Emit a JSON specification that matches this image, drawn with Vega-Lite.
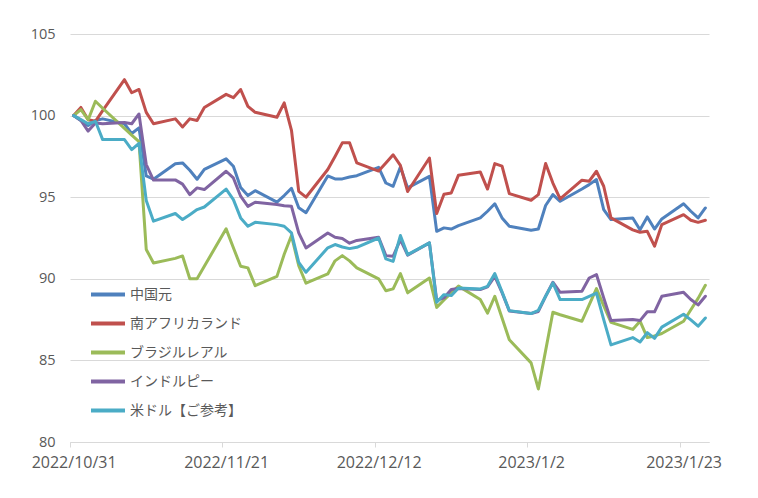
{
  "$schema": "https://vega.github.io/schema/vega-lite/v6.json",
  "width": 639,
  "height": 408,
  "autosize": "none",
  "padding": {"left": 70, "top": 34, "right": 49, "bottom": 56},
  "background": "white",
  "data": {
    "values": [
      {"date": "2022-10-31", "中国元": 100.0, "南アフリカランド": 100.0, "ブラジルレアル": 100.0, "インドルピー": 100.0, "米ドル【ご参考】": 100.0},
      {"date": "2022-11-01", "中国元": 99.7, "南アフリカランド": 100.5, "ブラジルレアル": 100.37, "インドルピー": 99.7, "米ドル【ご参考】": 99.75},
      {"date": "2022-11-02", "中国元": 99.4, "南アフリカランド": 99.75, "ブラジルレアル": 99.75, "インドルピー": 99.05, "米ドル【ご参考】": 99.5},
      {"date": "2022-11-03", "中国元": 99.7, "南アフリカランド": 99.65, "ブラジルレアル": 100.88, "インドルピー": 99.55, "米ドル【ご参考】": 99.65},
      {"date": "2022-11-04", "中国元": 99.8, "南アフリカランド": 100.3, "ブラジルレアル": 100.45, "インドルピー": 99.5, "米ドル【ご参考】": 98.53},
      {"date": "2022-11-07", "中国元": 99.5, "南アフリカランド": 102.2, "ブラジルレアル": 99.22, "インドルピー": 99.58, "米ドル【ご参考】": 98.53},
      {"date": "2022-11-08", "中国元": 98.9, "南アフリカランド": 101.4, "ブラジルレアル": 98.8, "インドルピー": 99.5, "米ドル【ご参考】": 97.92},
      {"date": "2022-11-09", "中国元": 99.25, "南アフリカランド": 101.6, "ブラジルレアル": 98.4, "インドルピー": 100.1, "米ドル【ご参考】": 98.3},
      {"date": "2022-11-10", "中国元": 96.3, "南アフリカランド": 100.2, "ブラジルレアル": 91.8, "インドルピー": 97.0, "米ドル【ご参考】": 94.8},
      {"date": "2022-11-11", "中国元": 96.1, "南アフリカランド": 99.5, "ブラジルレアル": 90.97, "インドルピー": 96.05, "米ドル【ご参考】": 93.53},
      {"date": "2022-11-14", "中国元": 97.05, "南アフリカランド": 99.8, "ブラジルレアル": 91.25, "インドルピー": 96.06, "米ドル【ご参考】": 94.0},
      {"date": "2022-11-15", "中国元": 97.1, "南アフリカランド": 99.3, "ブラジルレアル": 91.4, "インドルピー": 95.8, "米ドル【ご参考】": 93.63},
      {"date": "2022-11-16", "中国元": 96.65, "南アフリカランド": 99.8, "ブラジルレアル": 90.0, "インドルピー": 95.16, "米ドル【ご参考】": 93.93},
      {"date": "2022-11-17", "中国元": 96.1, "南アフリカランド": 99.7, "ブラジルレアル": 90.0, "インドルピー": 95.57, "米ドル【ご参考】": 94.24},
      {"date": "2022-11-18", "中国元": 96.7, "南アフリカランド": 100.5, "ブラジルレアル": 90.77, "インドルピー": 95.47, "米ドル【ご参考】": 94.4},
      {"date": "2022-11-21", "中国元": 97.35, "南アフリカランド": 101.3, "ブラジルレアル": 93.06, "インドルピー": 96.59, "米ドル【ご参考】": 95.5},
      {"date": "2022-11-22", "中国元": 96.9, "南アフリカランド": 101.1, "ブラジルレアル": 91.9, "インドルピー": 96.18, "米ドル【ご参考】": 94.85},
      {"date": "2022-11-23", "中国元": 95.6, "南アフリカランド": 101.6, "ブラジルレアル": 90.77, "インドルピー": 95.06, "米ドル【ご参考】": 93.73},
      {"date": "2022-11-24", "中国元": 95.1, "南アフリカランド": 100.57, "ブラジルレアル": 90.67, "インドルピー": 94.44, "米ドル【ご参考】": 93.22},
      {"date": "2022-11-25", "中国元": 95.4, "南アフリカランド": 100.2, "ブラジルレアル": 89.58, "インドルピー": 94.69, "米ドル【ご参考】": 93.46},
      {"date": "2022-11-28", "中国元": 94.7, "南アフリカランド": 99.9, "ブラジルレアル": 90.15, "インドルピー": 94.55, "米ドル【ご参考】": 93.32},
      {"date": "2022-11-29", "中国元": 95.1, "南アフリカランド": 100.78, "ブラジルレアル": 91.5, "インドルピー": 94.48, "米ドル【ご参考】": 93.22},
      {"date": "2022-11-30", "中国元": 95.55, "南アフリカランド": 99.1, "ブラジルレアル": 92.65, "インドルピー": 94.44, "米ドル【ご参考】": 92.81},
      {"date": "2022-12-01", "中国元": 94.35, "南アフリカランド": 95.36, "ブラジルレアル": 90.8, "インドルピー": 92.81, "米ドル【ご参考】": 91.0},
      {"date": "2022-12-02", "中国元": 94.05, "南アフリカランド": 95.0, "ブラジルレアル": 89.73, "インドルピー": 91.89, "米ドル【ご参考】": 90.4},
      {"date": "2022-12-05", "中国元": 96.3, "南アフリカランド": 96.7, "ブラジルレアル": 90.3, "インドルピー": 92.81, "米ドル【ご参考】": 91.9},
      {"date": "2022-12-06", "中国元": 96.12, "南アフリカランド": 97.5, "ブラジルレアル": 91.1, "インドルピー": 92.55, "米ドル【ご参考】": 92.1},
      {"date": "2022-12-07", "中国元": 96.12, "南アフリカランド": 98.33, "ブラジルレアル": 91.42, "インドルピー": 92.47, "米ドル【ご参考】": 91.95},
      {"date": "2022-12-08", "中国元": 96.24, "南アフリカランド": 98.33, "ブラジルレアル": 91.1, "インドルピー": 92.18, "米ドル【ご参考】": 91.85},
      {"date": "2022-12-09", "中国元": 96.32, "南アフリカランド": 97.1, "ブラジルレアル": 90.67, "インドルピー": 92.35, "米ドル【ご参考】": 91.93},
      {"date": "2022-12-12", "中国元": 96.83, "南アフリカランド": 96.6, "ブラジルレアル": 90.0, "インドルピー": 92.55, "米ドル【ご参考】": 92.5},
      {"date": "2022-12-13", "中国元": 95.87, "南アフリカランド": 97.1, "ブラジルレアル": 89.27, "インドルピー": 91.42, "米ドル【ご参考】": 91.22},
      {"date": "2022-12-14", "中国元": 95.67, "南アフリカランド": 97.6, "ブラジルレアル": 89.38, "インドルピー": 91.38, "米ドル【ご参考】": 91.07},
      {"date": "2022-12-15", "中国元": 96.85, "南アフリカランド": 96.95, "ブラジルレアル": 90.32, "インドルピー": 92.4, "米ドル【ご参考】": 92.65},
      {"date": "2022-12-16", "中国元": 95.57, "南アフリカランド": 95.35, "ブラジルレアル": 89.14, "インドルピー": 91.45, "米ドル【ご参考】": 91.48},
      {"date": "2022-12-19", "中国元": 96.28, "南アフリカランド": 97.4, "ブラジルレアル": 90.05, "インドルピー": 92.2, "米ドル【ご参考】": 92.2},
      {"date": "2022-12-20", "中国元": 92.91, "南アフリカランド": 94.0, "ブラジルレアル": 88.25, "インドルピー": 88.68, "米ドル【ご参考】": 88.56},
      {"date": "2022-12-21", "中国元": 93.12, "南アフリカランド": 95.18, "ブラジルレアル": 88.7, "インドルピー": 88.83, "米ドル【ご参考】": 89.03},
      {"date": "2022-12-22", "中国元": 93.05, "南アフリカランド": 95.26, "ブラジルレアル": 89.14, "インドルピー": 89.34, "米ドル【ご参考】": 88.97},
      {"date": "2022-12-23", "中国元": 93.26, "南アフリカランド": 96.35, "ブラジルレアル": 89.55, "インドルピー": 89.4, "米ドル【ご参考】": 89.44},
      {"date": "2022-12-26", "中国元": 93.73, "南アフリカランド": 96.55, "ブラジルレアル": 88.73, "インドルピー": 89.34, "米ドル【ご参考】": 89.38},
      {"date": "2022-12-27", "中国元": 94.14, "南アフリカランド": 95.5, "ブラジルレアル": 87.9, "インドルピー": 89.5, "米ドル【ご参考】": 89.54},
      {"date": "2022-12-28", "中国元": 94.6, "南アフリカランド": 97.06, "ブラジルレアル": 88.93, "インドルピー": 90.15, "米ドル【ご参考】": 90.32},
      {"date": "2022-12-29", "中国元": 93.73, "南アフリカランド": 96.9, "ブラジルレアル": 87.6, "インドルピー": 89.15, "米ドル【ご参考】": 89.2},
      {"date": "2022-12-30", "中国元": 93.22, "南アフリカランド": 95.22, "ブラジルレアル": 86.27, "インドルピー": 88.03, "米ドル【ご参考】": 88.05},
      {"date": "2023-01-02", "中国元": 92.97, "南アフリカランド": 94.81, "ブラジルレアル": 84.85, "インドルピー": 87.87, "米ドル【ご参考】": 87.87},
      {"date": "2023-01-03", "中国元": 93.05, "南アフリカランド": 95.16, "ブラジルレアル": 83.25, "インドルピー": 88.0, "米ドル【ご参考】": 88.07},
      {"date": "2023-01-04", "中国元": 94.49, "南アフリカランド": 97.06, "ブラジルレアル": 85.6, "インドルピー": 88.93, "米ドル【ご参考】": 88.93},
      {"date": "2023-01-05", "中国元": 95.16, "南アフリカランド": 95.87, "ブラジルレアル": 87.95, "インドルピー": 89.79, "米ドル【ご参考】": 89.75},
      {"date": "2023-01-06", "中国元": 94.75, "南アフリカランド": 94.9, "ブラジルレアル": 87.8, "インドルピー": 89.17, "米ドル【ご参考】": 88.73},
      {"date": "2023-01-09", "中国元": 95.5, "南アフリカランド": 96.04, "ブラジルレアル": 87.4, "インドルピー": 89.24, "米ドル【ご参考】": 88.73},
      {"date": "2023-01-10", "中国元": 95.77, "南アフリカランド": 95.98, "ブラジルレアル": 88.4, "インドルピー": 90.05, "米ドル【ご参考】": 88.93},
      {"date": "2023-01-11", "中国元": 96.08, "南アフリカランド": 96.59, "ブラジルレアル": 89.4, "インドルピー": 90.26, "米ドル【ご参考】": 89.13},
      {"date": "2023-01-12", "中国元": 94.24, "南アフリカランド": 95.67, "ブラジルレアル": 88.35, "インドルピー": 88.83, "米ドル【ご参考】": 87.5},
      {"date": "2023-01-13", "中国元": 93.63, "南アフリカランド": 93.73, "ブラジルレアル": 87.33, "インドルピー": 87.45, "米ドル【ご参考】": 85.95},
      {"date": "2023-01-16", "中国元": 93.73, "南アフリカランド": 93.0, "ブラジルレアル": 86.9, "インドルピー": 87.5, "米ドル【ご参考】": 86.4},
      {"date": "2023-01-17", "中国元": 93.0, "南アフリカランド": 92.85, "ブラジルレアル": 87.4, "インドルピー": 87.44, "米ドル【ご参考】": 86.13},
      {"date": "2023-01-18", "中国元": 93.79, "南アフリカランド": 92.91, "ブラジルレアル": 86.4, "インドルピー": 87.98, "米ドル【ご参考】": 86.7},
      {"date": "2023-01-19", "中国元": 93.05, "南アフリカランド": 92.0, "ブラジルレアル": 86.5, "インドルピー": 87.98, "米ドル【ご参考】": 86.35},
      {"date": "2023-01-20", "中国元": 93.67, "南アフリカランド": 93.32, "ブラジルレアル": 86.65, "インドルピー": 88.93, "米ドル【ご参考】": 87.04},
      {"date": "2023-01-23", "中国元": 94.6, "南アフリカランド": 93.93, "ブラジルレアル": 87.4, "インドルピー": 89.17, "米ドル【ご参考】": 87.83},
      {"date": "2023-01-24", "中国元": 94.14, "南アフリカランド": 93.59, "ブラジルレアル": 88.1, "インドルピー": 88.73, "米ドル【ご参考】": 87.48},
      {"date": "2023-01-25", "中国元": 93.73, "南アフリカランド": 93.46, "ブラジルレアル": 88.8, "インドルピー": 88.4, "米ドル【ご参考】": 87.1},
      {"date": "2023-01-26", "中国元": 94.34, "南アフリカランド": 93.59, "ブラジルレアル": 89.6, "インドルピー": 88.93, "米ドル【ご参考】": 87.6}
    ]
  },
  "transform": [
    {"fold": ["中国元", "南アフリカランド", "ブラジルレアル", "インドルピー", "米ドル【ご参考】"], "as": ["currency", "value"]}
  ],
  "mark": {"type": "line", "strokeWidth": 3, "strokeJoin": "round", "strokeCap": "round"},
  "encoding": {
    "x": {
      "field": "date",
      "type": "temporal",
      "title": null,
      "scale": {
        "type": "utc",
        "domain": [
          {"year": 2022, "month": 10, "date": 30, "hours": 12, "utc": true},
          {"year": 2023, "month": 1, "date": 26, "hours": 12, "utc": true}
        ]
      },
      "axis": {
        "values": [
          {"year": 2022, "month": 10, "date": 31, "utc": true},
          {"year": 2022, "month": 11, "date": 21, "utc": true},
          {"year": 2022, "month": 12, "date": 12, "utc": true},
          {"year": 2023, "month": 1, "date": 2, "utc": true},
          {"year": 2023, "month": 1, "date": 23, "utc": true}
        ],
        "format": "%Y/%-m/%-d",
        "grid": false,
        "domainColor": "#D9D9D9",
        "tickColor": "#D9D9D9",
        "tickSize": 5,
        "tickOffset": -3.63,
        "labelOffset": 3.63,
        "labelPadding": 7,
        "labelFont": "Open Sans",
        "labelFontSize": 16,
        "labelColor": "#595959",
        "labelFlush": false
      }
    },
    "y": {
      "field": "value",
      "type": "quantitative",
      "title": null,
      "scale": {"domain": [80, 105], "nice": false, "zero": false},
      "axis": {
        "values": [80, 85, 90, 95, 100, 105],
        "domain": false,
        "ticks": false,
        "gridColor": "#D9D9D9",
        "labelPadding": 15,
        "labelFont": "Open Sans",
        "labelFontSize": 14.5,
        "labelColor": "#595959"
      }
    },
    "color": {
      "field": "currency",
      "type": "nominal",
      "title": null,
      "scale": {
        "domain": ["中国元", "南アフリカランド", "ブラジルレアル", "インドルピー", "米ドル【ご参考】"],
        "range": ["#4F81BD", "#C0504D", "#9BBB59", "#8064A2", "#4BACC6"]
      },
      "legend": {
        "orient": "none",
        "legendX": 19,
        "legendY": 248,
        "padding": 0,
        "symbolType": "stroke",
        "symbolSize": 1156,
        "symbolStrokeWidth": 4,
        "clipHeight": 25,
        "rowPadding": 4,
        "labelOffset": 3,
        "labelFont": "Noto Sans CJK JP",
        "labelFontSize": 14,
        "labelColor": "#595959"
      }
    }
  },
  "config": {
    "view": {"stroke": null}
  }
}
